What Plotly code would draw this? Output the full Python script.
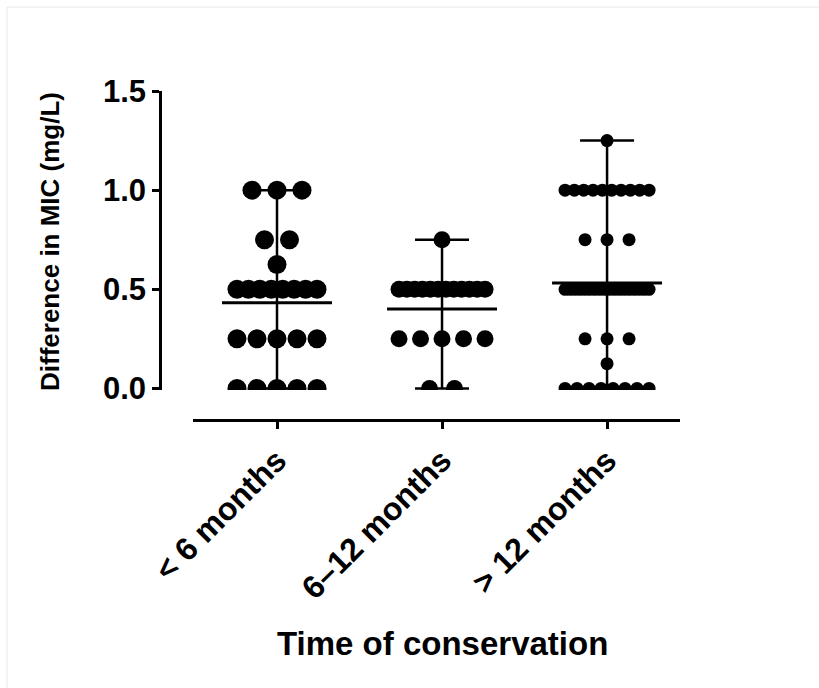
import numpy as np
import plotly.graph_objects as go

# Difference in MIC (mg/L) by time of conservation
categories = ["< 6 months", "6\u201312 months", "> 12 months"]

less_6 = [0.0, 0.0, 0.0, 0.0, 0.0,
          0.25, 0.25, 0.25, 0.25, 0.25,
          0.5, 0.5, 0.5, 0.5, 0.5, 0.5, 0.5, 0.5,
          0.625,
          0.75, 0.75,
          1.0, 1.0, 1.0]
from_6_to_12 = [0.0, 0.0,
                0.25, 0.25, 0.25, 0.25, 0.25,
                0.5, 0.5, 0.5, 0.5, 0.5, 0.5, 0.5, 0.5, 0.5, 0.5, 0.5, 0.5,
                0.75]
more_12 = [0.0, 0.0, 0.0, 0.0, 0.0, 0.0, 0.0, 0.0,
           0.125,
           0.25, 0.25, 0.25,
           0.5, 0.5, 0.5, 0.5, 0.5, 0.5, 0.5, 0.5, 0.5,
           0.5, 0.5, 0.5, 0.5, 0.5, 0.5, 0.5, 0.5, 0.5,
           0.75, 0.75, 0.75,
           1.0, 1.0, 1.0, 1.0, 1.0, 1.0, 1.0, 1.0, 1.0, 1.0,
           1.25]
groups = [less_6, from_6_to_12, more_12]

y_ticks = [0.0, 0.5, 1.0, 1.5]

# ---- layout geometry (pixels) ----
W, H = 819, 688
M_L, M_R, M_T, M_B = 160, 139, 91, 268
plot_w = W - M_L - M_R
plot_h = H - M_T - M_B
x_dom = [33 / plot_w, 1.0]
y_dom = [30 / plot_h, 1.0]
x_range = [-0.509, 2.442]
y_range = [-0.008, 1.5]
px_per_x = plot_w * (x_dom[1] - x_dom[0]) / (x_range[1] - x_range[0])

# per-group marker style and row spreading (pixels)
dot_size = [19, 17, 13]
row_step = [25, 25, 22]
row_span = [80, 86, 84]
mean_half = 55 / px_per_x
cap_half = 27 / px_per_x

FONT = "Liberation Sans, Arial, sans-serif"


def row_offsets(n, step, span):
    if n == 1:
        return np.zeros(1)
    s = min(step, span / (n - 1))
    return (np.arange(n) - (n - 1) / 2) * s


fig = go.Figure()

for gi, vals in enumerate(groups):
    vals = np.asarray(vals, dtype=float)
    xs, ys = [], []
    for v in np.unique(vals):
        n = int(np.sum(vals == v))
        off = row_offsets(n, row_step[gi], row_span[gi]) / px_per_x
        xs.extend(gi + off)
        ys.extend([v] * n)

    lo, hi, mean = vals.min(), vals.max(), vals.mean()
    # range whisker with caps, and the mean line
    lx = [gi, gi, None, gi - cap_half, gi + cap_half, None,
          gi - cap_half, gi + cap_half]
    ly = [lo, hi, None, hi, hi, None, lo, lo]
    fig.add_trace(go.Scatter(x=lx, y=ly, mode="lines",
                             line=dict(color="black", width=2.5),
                             hoverinfo="skip", showlegend=False))
    fig.add_trace(go.Scatter(x=[gi - mean_half, gi + mean_half], y=[mean, mean],
                             mode="lines", line=dict(color="black", width=3),
                             hoverinfo="skip", showlegend=False))
    fig.add_trace(go.Scatter(x=xs, y=ys, mode="markers",
                             marker=dict(color="black", size=dot_size[gi],
                                         line=dict(width=0)),
                             name=categories[gi], showlegend=False))


def px_x(px):
    return (px - M_L) / plot_w


def px_y(py):
    return (H - M_B - py) / plot_h


fig.update_layout(
    width=W, height=H,
    margin=dict(l=M_L, r=M_R, t=M_T, b=M_B, autoexpand=False),
    paper_bgcolor="white", plot_bgcolor="white",
    font=dict(family=FONT, color="black"),
    xaxis=dict(domain=x_dom, range=x_range, anchor="free", position=0,
               tickmode="array", tickvals=[0, 1, 2], ticktext=categories,
               tickangle=-45, ticks="outside", ticklen=7, tickwidth=2.5,
               tickcolor="black", showline=True, linewidth=3,
               linecolor="black", showgrid=False, zeroline=False,
               tickfont=dict(family=FONT, size=32, weight="bold")),
    yaxis=dict(domain=y_dom, range=y_range, anchor="free", position=0,
               tickmode="array", tickvals=y_ticks,
               ticktext=[f"{t:.1f}" for t in y_ticks],
               ticks="outside", ticklen=7, tickwidth=2.5, tickcolor="black",
               showline=True, linewidth=2.5, linecolor="black",
               showgrid=False, zeroline=False,
               tickfont=dict(family=FONT, size=31, weight="bold")),
    annotations=[
        dict(text="Time of conservation", xref="paper", yref="paper",
             x=px_x(442), y=px_y(643), showarrow=False,
             xanchor="center", yanchor="middle",
             font=dict(family=FONT, size=33, weight="bold")),
        dict(text="Difference in MIC (mg/L)", xref="paper", yref="paper",
             x=px_x(50), y=px_y(242), showarrow=False, textangle=-90,
             xanchor="center", yanchor="middle",
             font=dict(family=FONT, size=26, weight="bold")),
    ],
    shapes=[
        dict(type="line", xref="paper", yref="paper",
             x0=px_x(7), x1=px_x(7), y0=px_y(7), y1=px_y(H),
             line=dict(color="#e8e8e8", width=1)),
        dict(type="line", xref="paper", yref="paper",
             x0=px_x(7), x1=px_x(W), y0=px_y(7), y1=px_y(7),
             line=dict(color="#e8e8e8", width=1)),
    ],
)

fig.write_html("out.html")
